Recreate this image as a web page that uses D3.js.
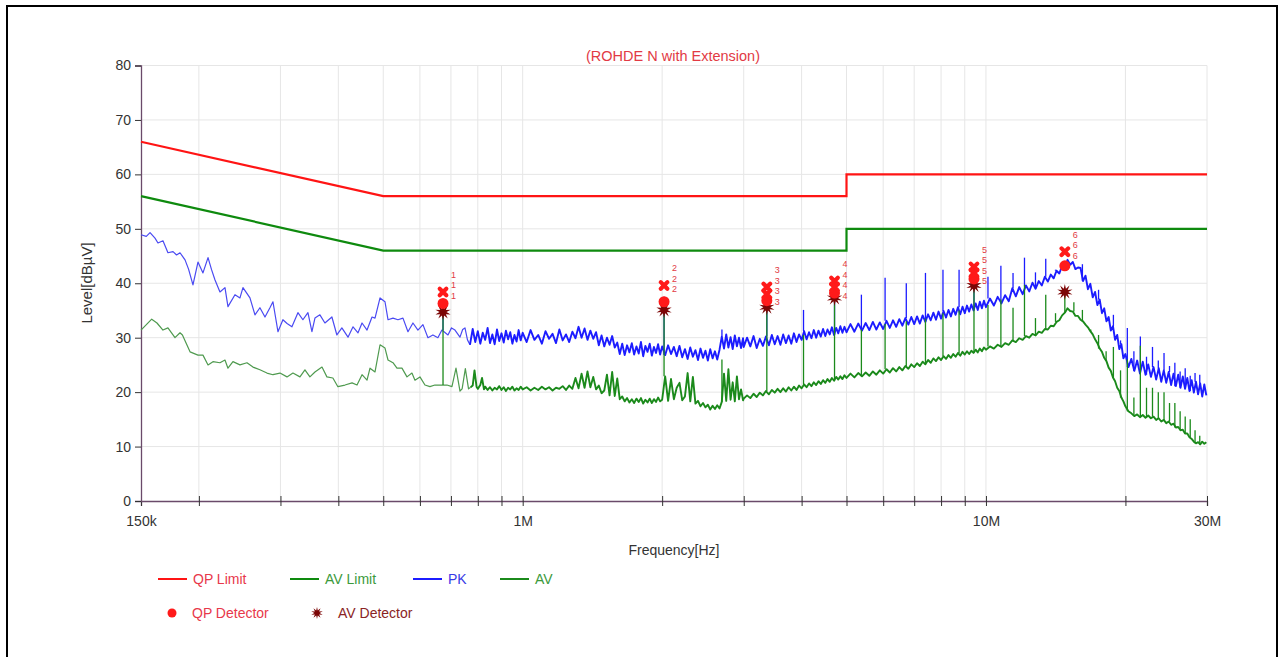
<!DOCTYPE html>
<html>
<head>
<meta charset="utf-8">
<script src="https://cdn.jsdelivr.net/npm/d3@7"></script>
<style>
  body { margin: 0; background: #fff; }
  svg { display: block; font-family: "Liberation Sans", Arial, sans-serif; }
</style>
</head>
<body>
<svg id="chart" width="1282" height="657"></svg>
<script>
// ---- Conducted emission scan, 150 kHz - 30 MHz (frequency in MHz, level in dBuV) ----

const chartTitle = "(ROHDE N with Extension)";
const xTitle = "Frequency[Hz]";
const yTitle = "Level[dBµV]";

const xTicks = [0.15, 0.2, 0.3, 0.4, 0.5, 0.6, 0.7, 0.8, 0.9, 1, 2, 3, 4, 5, 6, 7, 8, 9, 10, 20, 30];
const xTickLabels = [[0.15, "150k"], [1, "1M"], [10, "10M"], [30, "30M"]];
const yTicks = [0, 10, 20, 30, 40, 50, 60, 70, 80];

// Limit lines
const qpLimit = [[0.15, 66], [0.5, 56], [5, 56], [5, 60], [30, 60]];
const avLimit = [[0.15, 56], [0.5, 46], [5, 46], [5, 50], [30, 50]];

// Peak detector trace
const pkSweep1 = [[0.150,48.9],[0.1540,48.6],[0.1569,49.3],[0.1608,48.3],[0.1632,47.4],[0.1673,47.8],[0.1715,45.6],[0.1759,45.8],[0.1790,45.2],[0.1821,45.6],[0.1867,44.3],[0.1900,42.6],[0.1942,39.7],[0.1991,43.9],[0.2041,41.9],[0.2093,44.7],[0.2130,42.5],[0.2167,40.6],[0.2221,38.4],[0.2277,39.2],[0.2311,35.7],[0.2393,37.9],[0.2453,37.3],[0.2490,39.2],[0.2578,37.3],[0.2643,34.2],[0.2709,35.5],[0.2778,33.8],[0.2847,35.5],[0.2890,36.6],[0.2963,31.1],[0.3037,33.3],[0.3100,32.6],[0.3176,32.0],[0.3272,34.6],[0.3354,33.3],[0.3439,34.6],[0.3508,31.1],[0.3561,33.6],[0.3650,34.2],[0.3742,32.7],[0.3874,33.8],[0.3971,30.5],[0.4071,31.8],[0.4197,30.1],[0.4303,32.0],[0.4411,30.9],[0.4500,32.7],[0.4613,31.4],[0.4729,33.8],[0.4800,33.6],[0.4921,37.3],[0.5044,36.6],[0.5120,33.3],[0.5248,33.6],[0.5380,33.3],[0.5515,33.6],[0.5654,31.1],[0.5796,32.7],[0.5941,31.4],[0.6091,32.4],[0.6244,30.0],[0.6401,30.5],[0.6561,30.0],[0.6693,31.4],[0.6898,30.5],[0.7020,31.8],[0.7142,31.4],[0.7322,30.1],[0.7420,31.5],[0.7506,31.8],[0.7600,29.6],[0.7695,28.7]];
const pkSweep2 = [[0.78,31.6],[0.79,29.2],[0.80,31.2],[0.81,28.9],[0.82,30.9],[0.83,29.6],[0.84,31.8],[0.85,29.0],[0.86,30.6],[0.87,28.8],[0.88,31.5],[0.89,29.4],[0.90,30.8],[0.91,29.1],[0.92,31.3],[0.93,29.7],[0.94,31.0],[0.95,28.9],[0.96,30.5],[0.97,29.3],[0.98,31.4],[0.99,29.5]];
const pkSweep3 = [[1.00,30.9],[1.02,29.2],[1.04,31.4],[1.06,29.6],[1.08,30.5],[1.10,28.9],[1.12,31.2],[1.14,29.8],[1.16,30.7],[1.18,29.0],[1.20,31.5],[1.22,29.5],[1.24,30.6],[1.26,29.2],[1.28,31.1],[1.30,29.9],[1.32,32.0],[1.34,30.0],[1.36,31.7],[1.38,29.6],[1.40,31.3],[1.42,29.8],[1.44,31.0],[1.46,28.6],[1.48,30.4],[1.50,28.4],[1.52,30.0],[1.54,28.7],[1.56,30.3],[1.58,28.2],[1.60,29.1],[1.62,27.0],[1.64,28.9],[1.66,26.8],[1.68,28.6],[1.70,27.3],[1.72,29.0],[1.74,26.9],[1.76,28.4],[1.78,27.1],[1.80,29.2],[1.82,26.6],[1.84,28.5],[1.86,27.4],[1.88,28.9],[1.90,26.7],[1.92,28.3],[1.94,27.2],[1.96,28.8],[1.98,26.9]];
const pkSweep4 = [[2.00,28.4],[2.03,26.8],[2.06,28.6],[2.09,27.0],[2.12,28.3],[2.15,26.6],[2.18,28.5],[2.21,26.4],[2.24,27.9],[2.27,26.1],[2.30,28.2],[2.33,26.5],[2.36,27.7],[2.39,25.9],[2.42,28.0],[2.45,26.3],[2.48,27.6],[2.51,25.8],[2.54,27.9],[2.57,26.2],[2.60,27.5],[2.63,26.0],[2.66,27.8],[2.69,30.2],[2.72,28.0],[2.75,30.6],[2.78,28.2],[2.81,30.1],[2.84,27.9],[2.87,30.4],[2.90,28.4],[2.93,30.0],[2.96,28.1],[2.99,29.9]];
const pkSweep5 = [[3.00,28.3],[3.05,30.0],[3.10,28.4],[3.15,30.3],[3.20,28.1],[3.25,29.8],[3.30,28.5],[3.35,30.2],[3.40,28.6],[3.45,30.5],[3.50,28.8],[3.55,30.3],[3.60,28.7],[3.65,30.6],[3.70,29.0],[3.75,30.4],[3.80,28.9],[3.85,30.8],[3.90,29.2],[3.95,30.6],[4.00,29.6],[4.05,31.2],[4.10,29.7],[4.15,31.0],[4.20,29.9],[4.25,31.4],[4.30,30.0],[4.35,31.3],[4.40,30.2],[4.45,31.6],[4.50,30.3],[4.55,31.5],[4.60,30.6],[4.65,31.9],[4.70,30.5],[4.75,31.8],[4.80,30.8],[4.85,32.1],[4.90,30.9],[4.95,32.0]];
const pkSweep6 = [[5.0,31.0],[5.1,32.5],[5.2,31.1],[5.3,32.6],[5.4,31.3],[5.5,32.7],[5.6,31.4],[5.7,32.9],[5.8,31.5],[5.9,32.8],[6.0,31.6],[6.1,33.1],[6.2,31.8],[6.3,33.2],[6.4,32.0],[6.5,33.4],[6.6,32.2],[6.7,33.6],[6.8,32.4],[6.9,33.8],[7.0,32.5],[7.1,33.9],[7.2,32.6],[7.3,34.1],[7.4,32.9],[7.5,34.3],[7.6,33.2],[7.7,34.6],[7.8,33.3],[7.9,34.8],[8.0,33.5],[8.1,34.9],[8.2,33.7],[8.3,35.1],[8.4,33.9],[8.5,35.3],[8.6,34.2],[8.7,35.6],[8.8,34.3],[8.9,35.7],[9.0,34.5],[9.1,35.9],[9.2,34.8],[9.3,36.1],[9.4,35.0],[9.5,36.3],[9.6,35.1],[9.7,36.6],[9.8,35.4],[9.9,36.8]];
const pkSweep7 = [[10.0,35.6],[10.2,37.2],[10.4,35.9],[10.6,37.5],[10.8,36.3],[11.0,37.8],[11.2,36.7],[11.4,39.1],[11.6,37.6],[11.8,39.3],[12.0,38.0],[12.2,39.6],[12.4,38.5],[12.6,40.1],[12.8,39.0],[13.0,40.4],[13.2,39.6],[13.4,41.2],[13.6,40.3],[13.8,41.6],[14.0,40.9],[14.2,42.3],[14.4,41.8],[14.6,43.2],[14.8,42.8],[15.0,44.3],[15.2,43.4],[15.4,43.9],[15.6,42.6],[15.8,42.9],[16.0,42.8],[16.2,40.4],[16.4,41.4],[16.6,38.9],[16.8,39.9],[17.0,37.4],[17.2,38.4],[17.4,36.0],[17.6,37.0],[17.8,34.5],[18.0,35.4],[18.2,33.0],[18.4,33.8],[18.6,31.3],[18.8,32.1],[19.0,29.6],[19.2,30.5],[19.4,27.9],[19.6,28.8],[19.8,26.2]];
const pkSweep8 = [[20.0,27.0],[20.3,24.6],[20.6,26.1],[20.9,23.9],[21.2,25.8],[21.5,23.4],[21.8,25.6],[22.1,23.2],[22.4,25.1],[22.7,22.8],[23.0,24.6],[23.3,22.3],[23.6,24.4],[23.9,21.9],[24.2,24.0],[24.5,21.7],[24.8,23.7],[25.1,21.3],[25.4,23.4],[25.7,21.1],[26.0,23.2],[26.3,20.8],[26.6,22.9],[26.9,20.6],[27.2,22.6],[27.5,20.2],[27.8,22.2],[28.1,19.9],[28.4,21.9],[28.7,19.6],[29.0,21.6],[29.3,19.2],[29.6,21.4],[29.9,19.4]];

// Average detector trace
const avSweep1 = [[0.150,31.4],[0.1582,33.4],[0.1624,32.7],[0.1673,31.4],[0.1715,31.8],[0.1776,30.0],[0.1821,30.9],[0.1843,30.5],[0.1914,27.4],[0.1991,26.8],[0.2041,26.8],[0.2093,25.0],[0.2145,25.6],[0.2221,25.4],[0.2277,25.9],[0.2311,24.4],[0.2369,25.6],[0.2453,25.0],[0.2540,25.4],[0.2617,24.6],[0.2709,24.1],[0.2805,23.5],[0.2890,23.2],[0.2993,23.5],[0.3099,22.8],[0.3192,23.5],[0.3305,22.8],[0.3388,24.1],[0.3473,22.8],[0.3561,23.7],[0.3688,24.6],[0.3779,22.8],[0.3893,22.6],[0.3991,21.0],[0.4134,21.3],[0.4282,21.7],[0.4389,21.3],[0.4500,23.2],[0.4613,22.2],[0.4682,24.4],[0.4800,23.7],[0.4921,28.7],[0.5044,28.1],[0.5120,25.9],[0.5248,25.4],[0.5353,24.4],[0.5488,24.4],[0.5626,22.8],[0.5767,23.5],[0.5854,22.2],[0.6001,22.8],[0.6152,21.3],[0.6306,21.0],[0.6464,21.3],[0.6626,21.3],[0.6864,21.3],[0.7036,21.0],[0.7178,24.4],[0.7322,20.2],[0.7400,20.6],[0.7520,24.3],[0.7640,20.6],[0.7720,20.9]];
const avSweep2 = [[0.780,21.2],[0.787,24.0],[0.795,21.0],[0.800,20.6],[0.810,21.3],[0.817,22.6],[0.825,20.5],[0.83,21.0],[0.84,20.4],[0.85,20.9],[0.86,20.3],[0.87,20.8],[0.88,20.5],[0.89,21.1],[0.90,20.4],[0.91,20.9],[0.92,20.2],[0.93,20.8],[0.94,20.5],[0.95,21.0],[0.96,20.3],[0.97,20.7],[0.98,20.4],[0.99,21.0]];
const avSweep3 = [[1.00,20.5],[1.02,20.9],[1.04,20.3],[1.06,20.8],[1.08,20.4],[1.10,21.0],[1.12,20.5],[1.14,20.9],[1.16,20.3],[1.18,20.8],[1.20,20.6],[1.22,21.1],[1.24,20.4],[1.26,21.2],[1.28,20.6],[1.30,22.6],[1.32,20.7],[1.34,23.4],[1.36,20.8],[1.38,23.8],[1.40,20.9],[1.42,22.8],[1.44,20.5],[1.46,21.2],[1.48,19.8],[1.50,20.3],[1.52,23.2],[1.54,19.4],[1.56,23.7],[1.58,19.3],[1.60,22.5],[1.62,18.7],[1.64,19.2],[1.66,18.3],[1.68,18.9],[1.70,18.1],[1.72,18.7],[1.74,18.0],[1.76,18.8],[1.78,18.2],[1.80,18.9],[1.82,17.9],[1.84,18.6],[1.86,18.1],[1.88,18.8],[1.90,18.0],[1.92,18.7],[1.94,18.2],[1.96,19.0],[1.98,18.3]];
const avSweep4 = [[2.00,18.6],[2.03,22.9],[2.06,18.4],[2.09,22.4],[2.12,18.7],[2.15,20.8],[2.18,21.7],[2.21,18.5],[2.24,19.2],[2.27,23.5],[2.30,18.3],[2.33,22.8],[2.36,17.9],[2.39,18.4],[2.42,17.4],[2.45,18.0],[2.48,17.2],[2.51,17.7],[2.54,16.8],[2.57,17.5],[2.60,16.9],[2.63,17.6],[2.66,17.0],[2.69,18.2],[2.72,23.4],[2.75,18.4],[2.78,24.2],[2.81,18.6],[2.84,21.8],[2.87,18.3],[2.90,22.9],[2.93,18.7],[2.96,20.5],[2.99,18.5]];
const avSweep5 = [[3.00,18.8],[3.05,19.4],[3.10,18.9],[3.15,19.7],[3.20,19.1],[3.25,19.9],[3.30,19.4],[3.35,20.2],[3.40,19.6],[3.45,20.4],[3.50,19.9],[3.55,20.6],[3.60,20.0],[3.65,20.7],[3.70,20.1],[3.75,20.9],[3.80,20.3],[3.85,21.0],[3.90,20.4],[3.95,21.2],[4.00,20.7],[4.05,21.4],[4.10,20.9],[4.15,21.6],[4.20,21.1],[4.25,21.8],[4.30,21.3],[4.35,22.0],[4.40,21.5],[4.45,22.2],[4.50,21.7],[4.55,22.4],[4.60,21.9],[4.65,22.6],[4.70,22.1],[4.75,22.8],[4.80,22.3],[4.85,22.9],[4.90,22.4],[4.95,23.1]];
const avSweep6 = [[5.0,22.6],[5.1,23.4],[5.2,22.7],[5.3,23.5],[5.4,22.9],[5.5,23.6],[5.6,23.0],[5.7,23.8],[5.8,23.2],[5.9,24.0],[6.0,23.4],[6.1,24.2],[6.2,23.6],[6.3,24.4],[6.4,23.8],[6.5,24.6],[6.6,24.0],[6.7,24.8],[6.8,24.3],[6.9,25.1],[7.0,24.6],[7.1,25.3],[7.2,24.8],[7.3,25.6],[7.4,25.1],[7.5,25.9],[7.6,25.4],[7.7,26.2],[7.8,25.7],[7.9,26.4],[8.0,25.9],[8.1,26.6],[8.2,26.1],[8.3,26.8],[8.4,26.3],[8.5,27.0],[8.6,26.5],[8.7,27.2],[8.8,26.7],[8.9,27.4],[9.0,26.9],[9.1,27.5],[9.2,27.0],[9.3,27.6],[9.4,27.2],[9.5,27.8],[9.6,27.3],[9.7,28.0],[9.8,27.5],[9.9,28.2]];
const avSweep7 = [[10.0,27.8],[10.2,28.4],[10.4,28.0],[10.6,28.7],[10.8,28.3],[11.0,29.0],[11.2,28.7],[11.4,29.5],[11.6,29.2],[11.8,29.9],[12.0,29.6],[12.2,30.3],[12.4,30.0],[12.6,30.7],[12.8,30.4],[13.0,31.1],[13.2,30.9],[13.4,31.6],[13.6,31.5],[13.8,32.2],[14.0,32.1],[14.2,32.9],[14.4,33.2],[14.6,34.1],[14.8,34.6],[15.0,35.4],[15.2,34.9],[15.4,34.8],[15.6,34.0],[15.8,34.0],[16.0,33.3],[16.2,33.0],[16.4,32.4],[16.6,31.9],[16.8,31.2],[17.0,30.6],[17.2,29.7],[17.4,29.0],[17.6,28.0],[17.8,27.4],[18.0,26.3],[18.2,25.7],[18.4,24.5],[18.6,23.9],[18.8,22.7],[19.0,22.0],[19.2,20.8],[19.4,20.2],[19.6,19.0],[19.8,18.3]];
const avSweep8 = [[20.0,17.4],[20.3,16.5],[20.6,16.1],[20.9,15.6],[21.2,15.9],[21.5,15.4],[21.8,15.8],[22.1,15.3],[22.4,15.7],[22.7,15.2],[23.0,15.5],[23.3,14.9],[23.6,15.2],[23.9,14.6],[24.2,14.9],[24.5,14.3],[24.8,14.6],[25.1,14.0],[25.4,14.2],[25.7,13.5],[26.0,13.6],[26.3,13.0],[26.6,13.1],[26.9,12.4],[27.2,12.4],[27.5,11.7],[27.8,11.4],[28.1,10.9],[28.4,10.6],[28.7,10.8],[29.0,10.4],[29.3,10.9],[29.6,10.5],[29.9,10.8]];

// Narrowband harmonics: [frequency, top level]
const pkSpurs = [[0.673,37.0],[2.019,37.5],[2.692,31.5],[3.365,37.5],[4.038,35.1],[4.711,39.5],[5.384,37.9],[6.057,41.0],[6.730,40.0],[7.403,41.9],[8.076,42.5],[8.749,42.5],[9.422,41.5],[10.10,41.2],[10.77,43.2],[11.44,41.9],[12.11,44.7],[12.79,42.0],[13.46,44.5],[14.13,42.5],[16.15,43.5],[17.50,38.8],[18.84,34.2],[19.52,29.5],[20.19,31.8],[20.86,27.5],[21.54,30.2],[22.21,26.5],[22.88,28.3],[23.55,25.8],[24.23,27.2],[24.90,24.8],[25.57,25.4],[26.25,23.8],[26.92,24.4],[27.60,23.0],[28.27,23.5],[28.94,23.2]];
const avSpurs = [[0.673,34.8],[2.019,35.2],[2.692,26.0],[3.365,35.4],[4.038,30.5],[4.711,37.2],[5.384,31.5],[6.057,32.5],[6.730,33.0],[7.403,33.5],[8.076,34.5],[8.749,35.0],[9.422,39.5],[10.10,36.0],[10.77,37.0],[11.44,35.5],[12.11,39.7],[12.79,33.6],[13.46,37.9],[14.13,34.5],[14.80,38.2],[15.48,36.5],[16.15,35.1],[16.83,31.5],[17.50,30.5],[18.17,27.5],[18.84,28.3],[19.52,24.0],[20.19,26.0],[20.86,19.0],[21.54,28.5],[22.21,20.8],[22.88,20.8],[23.55,20.0],[24.23,20.0],[24.90,18.0],[25.57,18.0],[26.25,16.5],[26.92,15.5],[27.60,15.0],[28.27,13.0],[28.94,12.0]];

// Final measurement points: [frequency, level, marker number]
const peakMarks = [[0.673,38.4,1],[2.019,39.6,2],[3.365,39.3,3],[3.365,38.0,3],[4.711,40.4,4],[4.711,39.3,4],[9.422,43.0,5],[9.422,41.9,5],[14.80,45.8,6]];
const qpMarks = [[0.673,36.3,1],[2.019,36.6,2],[3.365,36.8,3],[4.711,38.2,4],[9.422,40.8,5],[14.80,43.2,6]];
const avMarks = [[0.673,34.7,1],[2.019,35.1,2],[3.365,35.6,3],[4.711,37.3,4],[9.422,39.6,5],[14.80,38.4,6]];

const lineLegend = ["QP Limit", "AV Limit", "PK", "AV"];
const markLegend = ["QP Detector", "AV Detector"];

// ---- styles ----
const C = {
  qpLimit: "#ff1414", avLimit: "#0e8a0e", pk: "#1c1cff", av: "#1b8a1b",
  pkThin: "#4a4af2", avThin: "#4f9a4f",
  qpDot: "#ff1a1a", avStar: "#7c0606", label: "#e23a44", text: "#333",
  grid: "#e6e6e6", axis: "#6a4a6a"
};

const svg = d3.select("#chart");
const x = d3.scaleLog().domain([0.15, 30]).range([141, 1207]);
const y = d3.scaleLinear().domain([0, 80]).range([501, 65.5]);

// frame
svg.append("rect").attr("x", 7).attr("y", 6).attr("width", 1270).attr("height", 662)
  .attr("fill", "none").attr("stroke", "#000").attr("stroke-width", 2);

// grid
const grid = svg.append("g");
grid.selectAll(".vg").data(xTicks.slice(1)).join("line")
  .attr("x1", d => x(d)).attr("x2", d => x(d)).attr("y1", y(80)).attr("y2", y(0))
  .attr("stroke", C.grid).attr("stroke-width", 1);
grid.selectAll(".hg").data(yTicks.slice(1)).join("line")
  .attr("x1", x(0.15)).attr("x2", x(30)).attr("y1", d => y(d)).attr("y2", d => y(d))
  .attr("stroke", C.grid).attr("stroke-width", 1);

// axes
const labelMap = new Map(xTickLabels);
const xAxis = svg.append("g").attr("transform", `translate(0,${y(0)})`)
  .call(d3.axisBottom(x).tickValues(xTicks).tickSizeOuter(0).tickSize(5)
    .tickFormat(d => labelMap.get(d) || ""));
xAxis.select(".domain").attr("stroke", C.axis).attr("stroke-width", 1.3);
xAxis.selectAll(".tick line").attr("y1", -5).attr("y2", 5).attr("stroke", "#333");
xAxis.selectAll(".tick text").attr("y", 25).attr("dy", 0)
  .attr("font-size", 14).attr("fill", C.text).attr("font-family", "Liberation Sans, Arial, sans-serif");

const yAxis = svg.append("g").attr("transform", `translate(${x(0.15)},0)`)
  .call(d3.axisLeft(y).tickValues(yTicks).tickSizeOuter(0).tickSize(6).tickPadding(4));
yAxis.select(".domain").attr("stroke", C.axis).attr("stroke-width", 1.3);
yAxis.selectAll(".tick line").attr("stroke", "#333");
yAxis.selectAll(".tick text").attr("font-size", 14).attr("fill", C.text)
  .attr("font-family", "Liberation Sans, Arial, sans-serif");

// titles
svg.append("text").attr("x", 673).attr("y", 61).attr("text-anchor", "middle")
  .attr("font-size", 14.5).attr("fill", C.label).text(chartTitle);
svg.append("text").attr("x", 674).attr("y", 555).attr("text-anchor", "middle")
  .attr("font-size", 14).attr("fill", C.text).text(xTitle);
svg.append("text").attr("transform", "translate(92,283) rotate(-90)").attr("text-anchor", "middle")
  .attr("font-size", 15).attr("fill", C.text).text(yTitle);

const line = d3.line().x(d => x(d[0])).y(d => y(d[1]));

// limits
svg.append("path").datum(qpLimit).attr("d", line).attr("fill", "none")
  .attr("stroke", C.qpLimit).attr("stroke-width", 2.2);
svg.append("path").datum(avLimit).attr("d", line).attr("fill", "none")
  .attr("stroke", C.avLimit).attr("stroke-width", 2.2);

// the low band is swept coarsely (thin line); above ~0.77 MHz the sweep is dense
const pkDense = [pkSweep1[pkSweep1.length - 1]].concat(pkSweep2, pkSweep3, pkSweep4, pkSweep5, pkSweep6, pkSweep7, pkSweep8);
const avDense = [avSweep1[avSweep1.length - 1]].concat(avSweep2, avSweep3, avSweep4, avSweep5, avSweep6, avSweep7, avSweep8);
const pkTrace = pkSweep1.concat(pkDense.slice(1));
const avTrace = avSweep1.concat(avDense.slice(1));

// level of a trace at the sample closest to f (base of a harmonic line)
function levelAt(trace, f) {
  const i = d3.bisector(d => d[0]).center(trace, f);
  return trace[i][1];
}

function drawTrace(coarse, dense, trace, spurs, thinColor, color) {
  svg.append("path").datum(coarse).attr("d", line).attr("fill", "none")
    .attr("stroke", thinColor).attr("stroke-width", 1.2).attr("stroke-linejoin", "round");
  svg.append("path").datum(dense).attr("d", line).attr("fill", "none")
    .attr("stroke", color).attr("stroke-width", 1.9).attr("stroke-linejoin", "round");
  svg.append("g").selectAll("line").data(spurs).join("line")
    .attr("x1", d => x(d[0])).attr("x2", d => x(d[0]))
    .attr("y1", d => y(levelAt(trace, d[0]))).attr("y2", d => y(d[1]))
    .attr("stroke", color).attr("stroke-width", 1.3);
}
drawTrace(pkSweep1, pkDense, pkTrace, pkSpurs, C.pkThin, C.pk);
drawTrace(avSweep1, avDense, avTrace, avSpurs, C.avThin, C.av);

// markers
function starPath(ro, ri, n) {
  const p = [];
  for (let i = 0; i < 2 * n; i++) {
    const r = i % 2 ? ri : ro, a = i * Math.PI / n - Math.PI / 2;
    p.push([(r * Math.cos(a)).toFixed(2), (r * Math.sin(a)).toFixed(2)]);
  }
  return "M" + p.join("L") + "Z";
}
const crossPath = "M-3.3,-3.3L3.3,3.3M-3.3,3.3L3.3,-3.3";

const marks = svg.append("g");
marks.selectAll(".st").data(avMarks).join("path")
  .attr("transform", d => `translate(${x(d[0])},${y(d[1])})`)
  .attr("d", starPath(8, 3.5, 10)).attr("fill", C.avStar);
marks.selectAll(".qp").data(qpMarks).join("circle")
  .attr("cx", d => x(d[0])).attr("cy", d => y(d[1])).attr("r", 5.5).attr("fill", C.qpDot);
marks.selectAll(".pk").data(peakMarks).join("path")
  .attr("transform", d => `translate(${x(d[0])},${y(d[1])})`)
  .attr("d", crossPath).attr("stroke", C.qpDot).attr("stroke-width", 4.2).attr("stroke-linecap", "round");

// marker numbers: stacked in a column beside each marker, starting above its highest point
const byMarker = d3.groups([].concat(peakMarks, qpMarks, avMarks), d => d[2]);
const labelStep = 10.5;
byMarker.forEach(([num, pts]) => {
  const top = d3.max(pts, d => d[1]);
  const fx = x(pts[0][0]) + 8;
  pts.forEach((d, i) => {
    marks.append("text").attr("x", fx).attr("y", y(top) - 14 + i * labelStep)
      .attr("font-size", 9).attr("fill", C.label).text(num);
  });
});

// legend
const lg = svg.append("g").attr("font-size", 14);
const lineColors = [C.qpLimit, C.avLimit, C.pk, C.av];
const lineTextColors = ["#e8384a", "#3c9a3c", "#3a3ae6", "#3c9a3c"];
const lineX = [158, 290, 413, 500];
lineLegend.forEach((name, i) => {
  lg.append("line").attr("x1", lineX[i]).attr("x2", lineX[i] + 29).attr("y1", 579).attr("y2", 579)
    .attr("stroke", lineColors[i]).attr("stroke-width", 2);
  lg.append("text").attr("x", lineX[i] + 35).attr("y", 584).attr("fill", lineTextColors[i]).text(name);
});
lg.append("circle").attr("cx", 172).attr("cy", 613).attr("r", 4.5).attr("fill", C.qpDot);
lg.append("text").attr("x", 192).attr("y", 618).attr("fill", "#e8384a").text(markLegend[0]);
lg.append("path").attr("transform", "translate(317,613)").attr("d", starPath(6, 2.6, 10)).attr("fill", C.avStar);
lg.append("text").attr("x", 338).attr("y", 618).attr("fill", "#8a2424").text(markLegend[1]);
</script>
</body>
</html>
